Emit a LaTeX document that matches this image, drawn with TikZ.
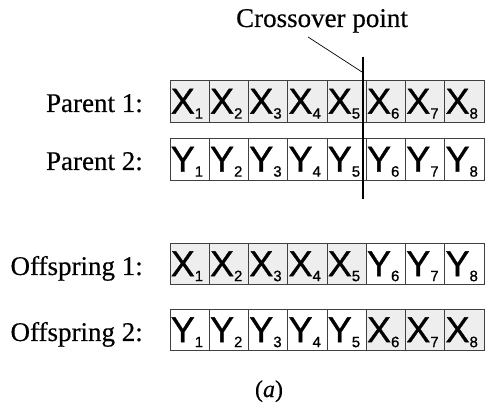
\documentclass[tikz,border=0pt]{standalone}
\usepackage{fontspec}
\setmainfont[FakeBold=0.4]{Liberation Serif}
\newfontfamily\cellfont[FakeBold=0.8]{Liberation Sans}
\tikzset{
  cellbox/.style={draw=black!75, line width=0.8pt, minimum width=39.25pt, minimum height=41.5pt, inner sep=0pt},
  xcell/.style={fill=gray!13},
  ycell/.style={fill=white},
  celltext/.style={anchor=base west, inner sep=0pt, font=\cellfont\fontsize{36}{36}\selectfont},
  rowlabel/.style={anchor=base east, inner sep=0pt, font=\fontsize{27}{27}\selectfont},
}
\newcommand\cellrow[3]{%
  \foreach \i/\L/\f in {#3} {
    \node[cellbox,\f] (#1\i) at ({170+39.25*(\i-0.5)},#2) {};
    \node[celltext] (#1t\i) at ([xshift=1pt,yshift=9pt]#1\i.south west)
      {\L\raisebox{-5pt}{\fontsize{15}{15}\selectfont\i}};
  }%
}
\begin{document}
\begin{tikzpicture}[x=1pt,y=1pt]
\useasboundingbox (0,0) rectangle (486,406);
% row labels
\node[rowlabel] (lp1) at (143,294) {Parent 1:};
\node[rowlabel] (lp2) at (143,236) {Parent 2:};
\node[rowlabel] (lo1) at (143,131) {Offspring 1:};
\node[rowlabel] (lo2) at (143,65) {Offspring 2:};
% rows
\cellrow{p}{304.5}{1/X/xcell,2/X/xcell,3/X/xcell,4/X/xcell,5/X/xcell,6/X/xcell,7/X/xcell,8/X/xcell}
\cellrow{q}{246.5}{1/Y/ycell,2/Y/ycell,3/Y/ycell,4/Y/ycell,5/Y/ycell,6/Y/ycell,7/Y/ycell,8/Y/ycell}
\cellrow{r}{142}{1/X/xcell,2/X/xcell,3/X/xcell,4/X/xcell,5/X/xcell,6/Y/ycell,7/Y/ycell,8/Y/ycell}
\cellrow{s}{76}{1/Y/ycell,2/Y/ycell,3/Y/ycell,4/Y/ycell,5/Y/ycell,6/X/xcell,7/X/xcell,8/X/xcell}
% crossover
\node[anchor=base, inner sep=0pt, font=\fontsize{27}{27}\selectfont] (cross) at (322,379) {Crossover point};
\coordinate (ct) at (363,349);
\coordinate (cb) at (363,207);
\coordinate (cs) at (308,369);
\coordinate (ce) at (362,334);
\draw[line width=2pt] (ct) -- (cb);
\draw[line width=0.7pt] (cs) -- (ce);
% caption
\node[anchor=base, inner sep=0pt, font=\fontsize{24}{24}\selectfont] (cap) at (269,9) {(\textit{a})};
\end{tikzpicture}
\end{document}
